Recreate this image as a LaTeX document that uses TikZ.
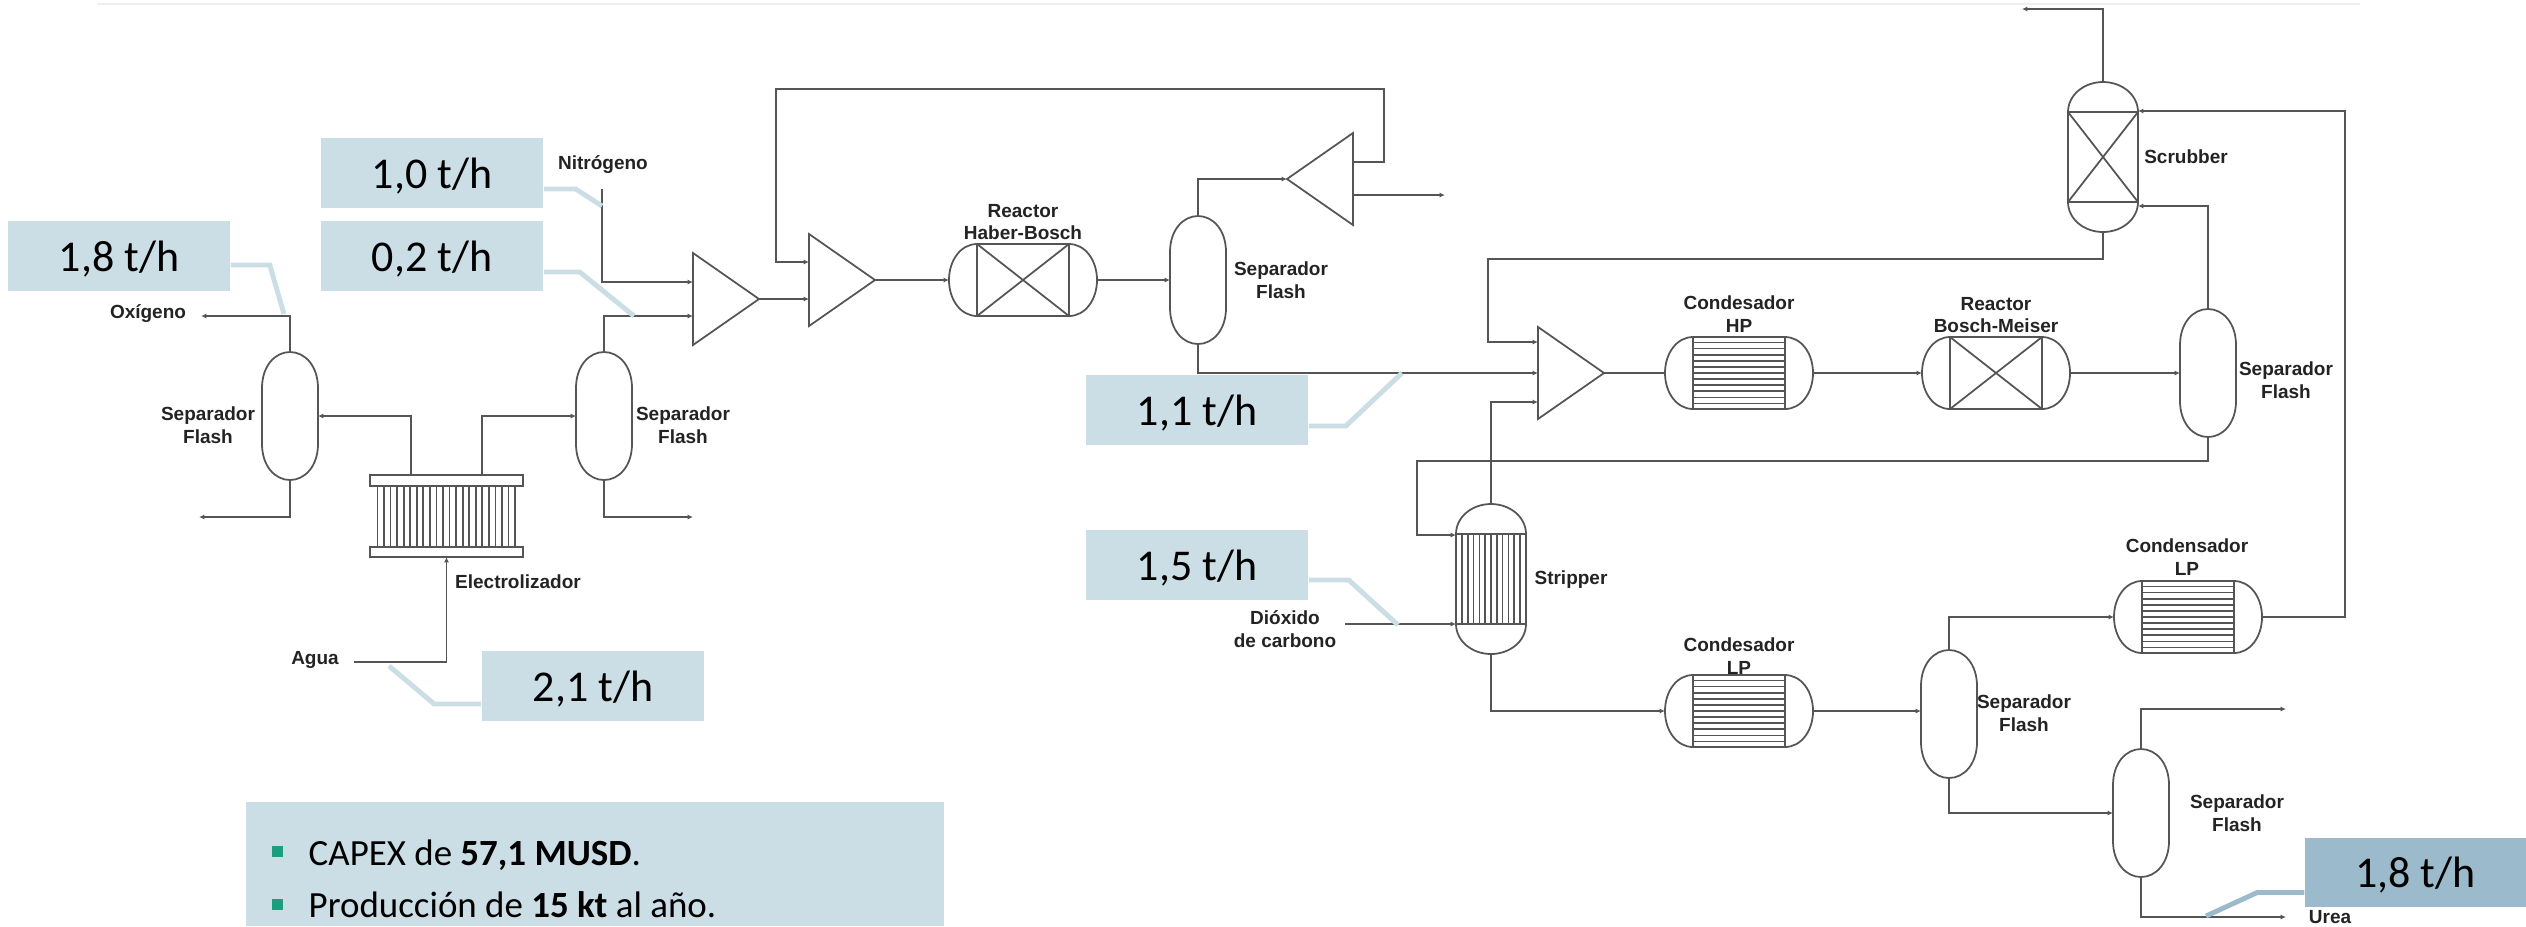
\documentclass[tikz,border=0pt]{standalone}
\usepackage{fontspec}
\setmainfont{Carlito}
\newfontfamily\tagfont{Liberation Sans}
\usetikzlibrary{
  arrows.meta,
  calc,
  positioning
}

\definecolor{linegrey}{RGB}{85,85,85}
\definecolor{tagink}{RGB}{35,35,35}
\definecolor{boxblue}{RGB}{203,221,229}
\definecolor{boxdark}{RGB}{155,187,204}
\definecolor{rulegrey}{RGB}{238,238,238}
\definecolor{bulletgreen}{RGB}{28,158,126}

\tikzset{
  unit/.style={draw=linegrey,line width=0.5pt},
  shell/.style={inner sep=0pt,outer sep=0pt},
  flow/.style={draw=linegrey,line width=0.55pt,-{Latex[length=1.5pt,width=1.4pt]}},
  pipe/.style={draw=linegrey,line width=0.55pt},
  tag/.style={font=\tagfont\bfseries\fontsize{5.4}{6.5}\selectfont,text=tagink,align=center,inner sep=0pt},
  rate/.style={fill=boxblue,inner sep=0pt,minimum width=2.22cm,minimum height=0.70cm,text depth=0pt,font=\fontsize{12.5}{15}\selectfont},
  leader/.style={draw=boxblue,line width=1.4pt},
  bullet/.style={fill=bulletgreen,inner sep=0pt,minimum width=0.11cm,minimum height=0.11cm},
  point/.style={font=\fontsize{10.5}{13}\selectfont,anchor=base west,inner sep=0pt}
}

\newcommand{\flash}[3]{
  \begin{scope}[shift={(#2,#3)}]
    \node[shell,minimum width=0.56cm,minimum height=1.28cm] (#1) at (0,0) {};
    \draw[unit] (-28,-28) .. controls (-28,-50) and (-15,-64) .. (0,-64) .. controls (15,-64) and (28,-50) .. (28,-28)
      -- (28,28) .. controls (28,50) and (15,64) .. (0,64) .. controls (-15,64) and (-28,50) .. (-28,28) -- cycle;
  \end{scope}
}
\newcommand{\hvessel}[3]{
  \node[shell,minimum width=1.48cm,minimum height=0.72cm] (#1) at (0,0) {};
  \draw[unit] (-46,-36) -- (46,-36) .. controls (62,-36) and (74,-20) .. (74,0) .. controls (74,20) and (62,36) .. (46,36)
    -- (-46,36) .. controls (-62,36) and (-74,20) .. (-74,0) .. controls (-74,-20) and (-62,-36) .. (-46,-36) -- cycle;
  \draw[unit] (-46,-36) -- (-46,36) (46,-36) -- (46,36);
}
\newcommand{\reactor}[3]{
  \begin{scope}[shift={(#2,#3)}]
    \hvessel{#1}{#2}{#3}
    \draw[unit] (-46,-36) -- (46,36) (-46,36) -- (46,-36);
  \end{scope}
}
\newcommand{\condenser}[3]{
  \begin{scope}[shift={(#2,#3)}]
    \hvessel{#1}{#2}{#3}
    \foreach \k in {-5,...,5} {
      \draw[unit] (-46,\k*6.1) -- (46,\k*6.1);
    }
  \end{scope}
}
\newcommand{\tower}[3]{
  \node[shell,minimum width=0.70cm,minimum height=1.50cm] (#1) at (0,0) {};
  \draw[unit] (-35,-45) .. controls (-35,-62) and (-19,-75) .. (0,-75) .. controls (19,-75) and (35,-62) .. (35,-45)
    -- (35,45) .. controls (35,62) and (19,75) .. (0,75) .. controls (-19,75) and (-35,62) .. (-35,45) -- cycle;
  \draw[unit] (-35,-45) -- (35,-45) (-35,45) -- (35,45);
}
\newcommand{\mixer}[3]{
  \node[shell,minimum width=0.66cm,minimum height=0.92cm] (#1) at (#2,#3) {};
  \draw[unit] (#1.north west) -- (#1.east) -- (#1.south west) -- cycle;
}
\newcommand{\splitter}[3]{
  \node[shell,minimum width=0.66cm,minimum height=0.92cm] (#1) at (#2,#3) {};
  \draw[unit] (#1.north east) -- (#1.west) -- (#1.south east) -- cycle;
}

\begin{document}
\begin{tikzpicture}[x=0.01cm,y=-0.01cm]
  \useasboundingbox (0,0) rectangle (2526,926);
  \draw[rulegrey,line width=0.5pt] (97,4) -- (2360,4);

  \flash{sepO}{290}{416}
  \flash{sepH}{604}{416}
  \flash{sepN}{1198}{280}
  \flash{sepR}{2208}{373}
  \flash{sepV}{1949}{714}
  \flash{sepU}{2141}{813}
  \reactor{habB}{1023}{280}
  \reactor{boschM}{1996}{373}
  \condenser{condH}{1739}{373}
  \condenser{condL}{1739}{711}
  \condenser{condU}{2188}{617}
  \mixer{mixA}{726}{299}
  \mixer{mixB}{842}{280}
  \mixer{mixC}{1571}{373}
  \splitter{splitN}{1320}{179}

  \begin{scope}[shift={(2103,157)}]
    \tower{scrub}{2103}{157}
    \draw[unit] (-35,-45) -- (35,45) (-35,45) -- (35,-45);
  \end{scope}
  \begin{scope}[shift={(1491,579)}]
    \tower{strip}{1491}{579}
    \foreach \k in {-6,...,6} {
      \draw[unit] (\k*5.8,-45) -- (\k*5.8,45);
    }
  \end{scope}

  \node[shell,minimum width=1.53cm,minimum height=0.82cm] (elec) at (446.5,516) {};
  \draw[unit] (370,475) rectangle (523,486);
  \draw[unit] (370,547) rectangle (523,557);
  \foreach \k in {0,...,21} {
    \draw[unit] (377.5+\k*6.55,486) -- (377.5+\k*6.55,547);
  }

  \coordinate (oxEnd) at (201,316);
  \coordinate (oxDrain) at (199,517);
  \coordinate (hDrain) at (693,517);
  \coordinate (elecO) at (411,475);
  \coordinate (elecH) at (482,475);
  \coordinate (agua) at (354,662);
  \coordinate (nIn) at (602,189);
  \coordinate (mixAn) at (693,282);
  \coordinate (mixAh) at (693,316);
  \coordinate (recTop) at (1384,89);
  \coordinate (recLeft) at (776,89);
  \coordinate (recOut) at (1353,162);
  \coordinate (recIn) at (809,262);
  \coordinate (purgeOut) at (1353,195);
  \coordinate (purgeEnd) at (1445,195);
  \coordinate (scrubVent) at (2022,9);
  \coordinate (scrubA) at (2138,111);
  \coordinate (scrubB) at (2138,206);
  \coordinate (scrubBend) at (1488,259);
  \coordinate (mixCa) at (1538,342);
  \coordinate (mixCc) at (1538,402);
  \coordinate (loopBend) at (1417,461);
  \coordinate (stripA) at (1456,535);
  \coordinate (stripB) at (1456,624);
  \coordinate (coIn) at (1345,624);
  \coordinate (riserRight) at (2345,617);
  \coordinate (sepUtop) at (2286,709);
  \coordinate (ureaEnd) at (2286,917);

  \draw[flow] (sepO.north) |- (oxEnd);
  \draw[flow] (sepO.south) |- (oxDrain);
  \draw[flow] (elecO) |- (sepO.east);
  \draw[flow] (elecH) |- (sepH.west);
  \draw[flow] (sepH.north) |- (mixAh);
  \draw[flow] (sepH.south) |- (hDrain);
  \draw[flow] (nIn) |- (mixAn);
  \draw[flow] (agua) -| (elec.south);
  \draw[flow] (mixA.east) -- (mixA.east -| mixB.west);
  \draw[flow] (mixB.east) -- (habB.west);
  \draw[flow] (habB.east) -- (sepN.west);
  \draw[flow] (sepN.north) |- (splitN.west);
  \draw[flow] (purgeOut) -- (purgeEnd);
  \draw[flow] (recOut) -| (recTop) -- (recLeft) |- (recIn);
  \draw[flow] (sepN.south) |- (mixC.west);
  \draw[pipe] (mixC.east) -- (condH.west);
  \draw[flow] (condH.east) -- (boschM.west);
  \draw[flow] (boschM.east) -- (sepR.west);
  \draw[flow] (sepR.north) |- (scrubB);
  \draw[flow] (scrub.north) |- (scrubVent);
  \draw[flow] (scrub.south) |- (scrubBend) |- (mixCa);
  \draw[flow] (strip.north) |- (mixCc);
  \draw[flow] (sepR.south) |- (loopBend) |- (stripA);
  \draw[flow] (coIn) -- (stripB);
  \draw[flow] (strip.south) |- (condL.west);
  \draw[flow] (condL.east) -- (condL.east -| sepV.west);
  \draw[flow] (sepV.north) |- (condU.west);
  \draw[flow] (condU.east) -- (riserRight) |- (scrubA);
  \draw[flow] (sepV.south) |- (sepU.west);
  \draw[flow] (sepU.north) |- (sepUtop);
  \draw[flow] (sepU.south) |- (ureaEnd);

  \node[tag] (tOx) at (148,314) {Oxígeno};
  \node[tag] (tN) at (603,165) {Nitrógeno};
  \node[tag] (tAgua) at (315,660) {Agua};
  \node[tag] (tElec) at (518,582) {Electrolizador};
  \node[tag] (tSepO) at (208,425) {Separador\\Flash};
  \node[tag] (tSepH) at (683,425) {Separador\\Flash};
  \node[tag] (tHab) at (1023,222) {Reactor\\Haber-Bosch};
  \node[tag] (tSepN) at (1281,280) {Separador\\Flash};
  \node[tag] (tScrub) at (2186,157) {Scrubber};
  \node[tag] (tCondH) at (1739,314) {Condesador\\HP};
  \node[tag] (tBosch) at (1996,315) {Reactor\\Bosch-Meiser};
  \node[tag] (tSepR) at (2286,380) {Separador\\Flash};
  \node[tag] (tStrip) at (1571,580) {Stripper};
  \node[tag] (tCo) at (1285,629) {Dióxido\\de carbono};
  \node[tag] (tCondL) at (1739,656) {Condesador\\LP};
  \node[tag] (tCondU) at (2187,557) {Condensador\\LP};
  \node[tag] (tSepV) at (2024,713) {Separador\\Flash};
  \node[tag] (tSepU) at (2237,813) {Separador\\Flash};
  \node[tag] (tUrea) at (2330,917) {Urea};

  \node[rate] (rOx) at (119,256) {1,8 t/h};
  \node[rate] (rN) at (432,173) {1,0 t/h};
  \node[rate] (rH) at (432,256) {0,2 t/h};
  \node[rate] (rAgua) at (593,686) {2,1 t/h};
  \node[rate] (rNH) at (1197,410) {1,1 t/h};
  \node[rate] (rCo) at (1197,565) {1,5 t/h};
  \node[rate,fill=boxdark,minimum width=2.21cm,minimum height=0.69cm] (rUrea) at (2415.5,872.5) {1,8 t/h};

  \coordinate (tapOx) at (284,314);
  \coordinate (tapN) at (602,206);
  \coordinate (tapH) at (634,316);
  \coordinate (tapAgua) at (389,666);
  \coordinate (tapNH) at (1402,373);
  \coordinate (tapCo) at (1398,625);
  \coordinate (tapUrea) at (2206,916);
  \draw[leader] ([yshift=-0.09cm]rOx.east) -- ++(39,0) -- (tapOx);
  \draw[leader] ([yshift=-0.16cm]rN.east) -- ++(32,0) -- (tapN);
  \draw[leader] ([yshift=-0.16cm]rH.east) -- ++(36,0) -- (tapH);
  \draw[leader] ([yshift=-0.18cm]rAgua.west) -- ++(-47,0) -- (tapAgua);
  \draw[leader] ([yshift=-0.16cm]rNH.east) -- ++(37,0) -- (tapNH);
  \draw[leader] ([yshift=-0.15cm]rCo.east) -- ++(40,0) -- (tapCo);
  \draw[leader,draw=boxdark] ([yshift=-0.20cm]rUrea.west) -- ++(-47,0) -- (tapUrea);

  \node[fill=boxblue,inner sep=0pt,minimum width=6.98cm,minimum height=1.24cm] (results) at (595,864) {};
  \node[bullet] (mkA) at (277.5,851.5) {};
  \node[bullet] (mkB) at (277.5,904) {};
  \node[point] (capex) at (308,865) {CAPEX de \textbf{57,1 MUSD}.};
  \node[point] (prod) at (308,917) {Producción de \textbf{15 kt} al año.};
\end{tikzpicture}
\end{document}
